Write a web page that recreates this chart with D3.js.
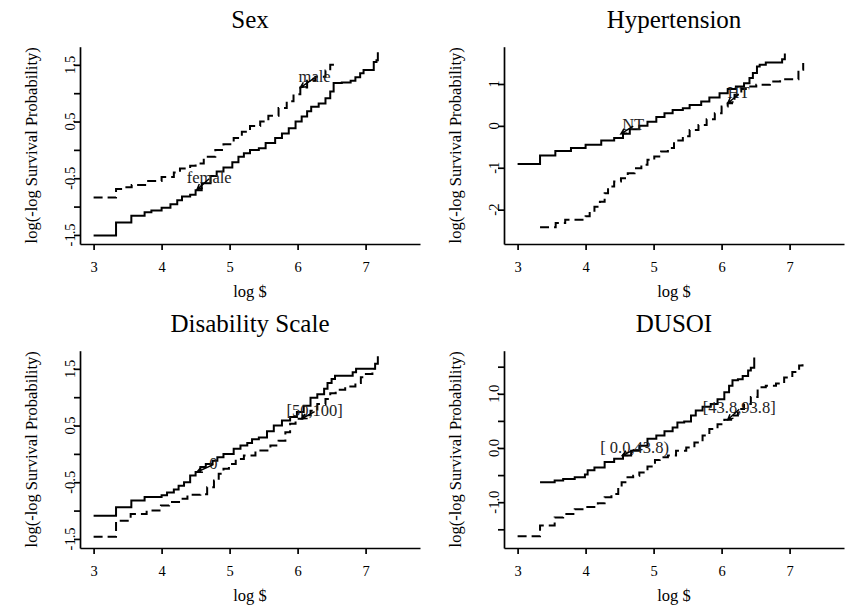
<!DOCTYPE html>
<html>
<head>
<meta charset="utf-8">
<script src="https://cdn.jsdelivr.net/npm/d3@7"></script>
<style>
  body { margin: 0; background: #fff; }
  svg { display: block; }
  text { font-family: "Liberation Serif", "Times New Roman", serif; fill: #000; }
</style>
</head>
<body>
<svg id="chart" width="848" height="608"></svg>
<script>
// log cost axis ticks shared by all four panels
const xTicks = [3, 4, 5, 6, 7];

// Step curves: [log $, log(-log S)] at each jump
const sexFemale = [[3.0,-1.51],[3.33,-1.28],[3.555,-1.16],[3.75,-1.10],[3.85,-1.07],[4.0,-1.02],[4.13,-0.96],[4.23,-0.89],[4.30,-0.82],[4.42,-0.79],[4.50,-0.71],[4.59,-0.59],[4.72,-0.46],[4.81,-0.38],[4.91,-0.31],[5.04,-0.22],[5.13,-0.12],[5.21,-0.06],[5.30,0.0],[5.43,0.03],[5.53,0.12],[5.67,0.21],[5.77,0.29],[5.87,0.38],[5.97,0.50],[6.06,0.59],[6.14,0.68],[6.20,0.76],[6.31,0.82],[6.41,0.91],[6.48,1.03],[6.53,1.18],[6.65,1.19],[6.78,1.22],[6.85,1.28],[6.92,1.35],[6.97,1.41],[7.12,1.55],[7.16,1.58],[7.18,1.72]];
const sexMale = [[3.0,-0.84],[3.33,-0.69],[3.45,-0.66],[3.56,-0.62],[3.78,-0.55],[4.0,-0.48],[4.18,-0.40],[4.27,-0.33],[4.42,-0.28],[4.50,-0.24],[4.62,-0.12],[4.79,0.0],[4.91,0.10],[5.06,0.21],[5.18,0.32],[5.30,0.42],[5.45,0.50],[5.57,0.60],[5.72,0.74],[5.84,0.86],[5.94,0.98],[6.04,1.10],[6.14,1.22],[6.26,1.29],[6.41,1.40],[6.48,1.50],[6.55,1.55]];

const htnNT = [[3.0,-0.91],[3.33,-0.71],[3.555,-0.60],[3.785,-0.53],[4.0,-0.45],[4.23,-0.35],[4.42,-0.29],[4.55,-0.19],[4.65,-0.08],[4.79,0.0],[4.91,0.10],[5.04,0.21],[5.16,0.30],[5.28,0.38],[5.43,0.42],[5.53,0.50],[5.70,0.58],[5.82,0.68],[5.97,0.78],[6.09,0.88],[6.21,0.94],[6.33,1.02],[6.41,1.14],[6.46,1.26],[6.52,1.42],[6.56,1.46],[6.65,1.51],[6.89,1.59],[6.93,1.73]];
const htnHT = [[3.33,-2.42],[3.56,-2.32],[3.70,-2.24],[4.0,-2.16],[4.06,-2.05],[4.13,-1.93],[4.21,-1.81],[4.28,-1.61],[4.33,-1.45],[4.42,-1.33],[4.52,-1.25],[4.62,-1.13],[4.72,-1.01],[4.82,-0.93],[4.91,-0.81],[5.01,-0.73],[5.11,-0.61],[5.21,-0.53],[5.30,-0.35],[5.43,-0.25],[5.53,-0.10],[5.66,0.02],[5.78,0.16],[5.90,0.30],[6.0,0.46],[6.09,0.54],[6.19,0.74],[6.29,0.88],[6.39,0.94],[6.51,0.98],[6.71,1.06],[6.86,1.11],[7.13,1.34],[7.20,1.50]];

const disab0 = [[3.0,-1.09],[3.33,-0.94],[3.555,-0.82],[3.75,-0.76],[4.0,-0.73],[4.08,-0.68],[4.18,-0.63],[4.25,-0.56],[4.33,-0.50],[4.42,-0.38],[4.50,-0.32],[4.57,-0.23],[4.65,-0.18],[4.75,-0.12],[4.82,-0.06],[4.91,0.0],[5.06,0.09],[5.16,0.15],[5.26,0.19],[5.33,0.26],[5.43,0.29],[5.55,0.40],[5.65,0.50],[5.77,0.59],[5.89,0.65],[5.99,0.74],[6.09,0.85],[6.19,0.99],[6.29,1.05],[6.39,1.15],[6.44,1.25],[6.50,1.32],[6.55,1.38],[6.81,1.44],[6.86,1.50],[7.14,1.59],[7.18,1.72]];
const disab50 = [[3.0,-1.46],[3.33,-1.18],[3.545,-1.06],[3.78,-1.0],[3.99,-0.91],[4.11,-0.85],[4.28,-0.79],[4.38,-0.72],[4.57,-0.71],[4.67,-0.59],[4.77,-0.47],[4.84,-0.35],[4.91,-0.26],[4.99,-0.18],[5.09,-0.09],[5.21,-0.03],[5.38,0.06],[5.60,0.15],[5.72,0.23],[5.82,0.38],[5.89,0.53],[5.97,0.62],[6.07,0.68],[6.19,0.76],[6.29,0.88],[6.41,0.97],[6.48,1.07],[6.56,1.13],[6.70,1.19],[6.85,1.25],[6.93,1.35],[6.97,1.41],[7.10,1.44],[7.13,1.50]];

const dusoiLow = [[3.33,-0.63],[3.545,-0.60],[3.67,-0.57],[3.84,-0.54],[3.99,-0.49],[4.03,-0.41],[4.13,-0.36],[4.28,-0.26],[4.42,-0.20],[4.55,-0.14],[4.67,-0.05],[4.79,0.04],[4.91,0.17],[5.04,0.23],[5.16,0.31],[5.28,0.38],[5.35,0.47],[5.45,0.49],[5.55,0.60],[5.62,0.69],[5.72,0.76],[5.84,0.81],[5.94,0.90],[6.04,1.03],[6.11,1.15],[6.16,1.25],[6.24,1.27],[6.31,1.33],[6.39,1.43],[6.43,1.48],[6.48,1.67]];
const dusoiHigh = [[3.0,-1.63],[3.33,-1.43],[3.545,-1.28],[3.67,-1.22],[3.84,-1.13],[4.0,-1.09],[4.18,-1.02],[4.28,-0.91],[4.38,-0.85],[4.48,-0.73],[4.53,-0.63],[4.60,-0.54],[4.70,-0.51],[4.79,-0.45],[4.91,-0.34],[5.02,-0.22],[5.09,-0.17],[5.21,-0.14],[5.33,-0.05],[5.48,0.01],[5.60,0.10],[5.72,0.23],[5.82,0.35],[5.94,0.44],[6.04,0.52],[6.14,0.60],[6.24,0.72],[6.33,0.81],[6.43,0.94],[6.53,1.12],[6.65,1.15],[6.80,1.19],[6.92,1.30],[7.04,1.40],[7.14,1.52],[7.19,1.58]];

// Curve labels: text centre / baseline, and the point the arrow touches
const sexLabels = [
  { text: "female", x: 4.70, y: -0.58, tipX: 4.52, tipY: -0.70 },
  { text: "male",   x: 6.25, y: 1.20,  tipX: 6.04, tipY: 1.10 }
];
const htnLabels = [
  { text: "NT", x: 4.70, y: -0.10, tipX: 4.52, tipY: -0.19 },
  { text: "HT", x: 6.25, y: 0.66,  tipX: 6.09, tipY: 0.54 }
];
const disabLabels = [
  { text: "0",        x: 4.76, y: -0.26, tipX: 4.52, tipY: -0.32 },
  { text: "[50,100]", x: 6.25, y: 0.675, tipX: 6.06, tipY: 0.62 }
];
const dusoiLabels = [
  { text: "[ 0.0,43.8)",  x: 4.72, y: -0.10, tipX: 4.54, tipY: -0.14 },
  { text: "[43.8,93.8]", x: 6.26, y: 0.64,  tipX: 6.09, tipY: 0.52 }
];

const panels = [
  { title: "Sex", ox: 0, oy: 0, yDomain: [-1.66, 1.82],
    yTicks: [-1.5, -1, -0.5, 0, 0.5, 1, 1.5], yLabelTicks: [-1.5, -0.5, 0.5, 1.5],
    fmt: d => String(d), solid: sexFemale, dashed: sexMale, labels: sexLabels },
  { title: "Hypertension", ox: 424, oy: 0, yDomain: [-2.82, 1.89],
    yTicks: [-2, -1, 0, 1], yLabelTicks: [-2, -1, 0, 1],
    fmt: d => String(d), solid: htnNT, dashed: htnHT, labels: htnLabels },
  { title: "Disability Scale", ox: 0, oy: 304, yDomain: [-1.66, 1.82],
    yTicks: [-1.5, -1, -0.5, 0, 0.5, 1, 1.5], yLabelTicks: [-1.5, -0.5, 0.5, 1.5],
    fmt: d => String(d), solid: disab0, dashed: disab50, labels: disabLabels },
  { title: "DUSOI", ox: 424, oy: 304, yDomain: [-1.845, 1.795],
    yTicks: [-1.5, -1, -0.5, 0, 0.5, 1, 1.5], yLabelTicks: [-1, 0, 1],
    fmt: d => d.toFixed(1), solid: dusoiLow, dashed: dusoiHigh, labels: dusoiLabels }
];

const svg = d3.select("#chart");
const plotL = 80, plotR = 420, plotT = 46.7, plotB = 244;
const axisW = 1.7;

panels.forEach(p => {
  const g = svg.append("g").attr("transform", `translate(${p.ox},${p.oy})`);
  const x = d3.scaleLinear().domain([2.8, 7.8]).range([plotL, plotR]);
  const y = d3.scaleLinear().domain(p.yDomain).range([plotB, plotT]);
  const cx = (plotL + plotR) / 2;

  // title
  g.append("text").attr("x", cx).attr("y", 28).attr("text-anchor", "middle")
    .style("font-size", "25px").text(p.title);

  // x axis
  const xa = g.append("g").attr("transform", `translate(0,${plotB})`)
    .call(d3.axisBottom(x).tickValues(xTicks).tickSize(6).tickSizeOuter(0).tickFormat(d3.format("d")));
  xa.select(".domain").attr("stroke-width", axisW);
  xa.selectAll(".tick line").attr("stroke-width", axisW);
  xa.selectAll(".tick text").attr("y", 27.5).attr("dy", null)
    .style("font-size", "14.5px").style("font-family", "Liberation Serif");

  // y axis (labels drawn separately, rotated)
  const ya = g.append("g").attr("transform", `translate(${plotL},0)`)
    .call(d3.axisLeft(y).tickValues(p.yTicks).tickSize(6).tickSizeOuter(0).tickFormat(""));
  ya.select(".domain").attr("stroke-width", axisW);
  ya.selectAll(".tick line").attr("stroke-width", axisW);
  g.selectAll(".ylab").data(p.yLabelTicks).enter().append("text")
    .attr("class", "ylab")
    .attr("transform", d => `translate(75,${y(d)}) rotate(-90)`)
    .attr("text-anchor", "middle").style("font-size", "14.5px").text(p.fmt);

  // axis titles
  g.append("text").attr("x", cx).attr("y", 297).attr("text-anchor", "middle")
    .style("font-size", "16.5px").text("log $");
  g.append("text").attr("transform", `translate(36.5,${(plotT + plotB) / 2}) rotate(-90)`)
    .attr("text-anchor", "middle").style("font-size", "16.5px")
    .text("log(-log Survival Probability)");

  // survival curves
  const line = d3.line().x(d => x(d[0])).y(d => y(d[1])).curve(d3.curveStepAfter);
  g.append("path").datum(p.solid).attr("d", line)
    .attr("fill", "none").attr("stroke", "#000").attr("stroke-width", 2);
  g.append("path").datum(p.dashed).attr("d", line)
    .attr("fill", "none").attr("stroke", "#000").attr("stroke-width", 2)
    .attr("stroke-dasharray", "9,5");

  // curve labels with arrows
  p.labels.forEach(l => {
    const tx = x(l.x), ty = y(l.y);
    g.append("text").attr("x", tx).attr("y", ty).attr("text-anchor", "middle")
      .style("font-size", "16.5px").style("fill", "#222").text(l.text);
    const x0 = tx, y0 = ty - 4, x1 = x(l.tipX), y1 = y(l.tipY);
    const ang = Math.atan2(y1 - y0, x1 - x0), hl = 6, ha = Math.PI / 7;
    const path = d3.path();
    path.moveTo(x0, y0); path.lineTo(x1, y1);
    path.moveTo(x1 - hl * Math.cos(ang - ha), y1 - hl * Math.sin(ang - ha));
    path.lineTo(x1, y1);
    path.lineTo(x1 - hl * Math.cos(ang + ha), y1 - hl * Math.sin(ang + ha));
    g.append("path").attr("d", path.toString()).attr("fill", "none")
      .attr("stroke", "#000").attr("stroke-width", 1.5);
  });
});
</script>
</body>
</html>
